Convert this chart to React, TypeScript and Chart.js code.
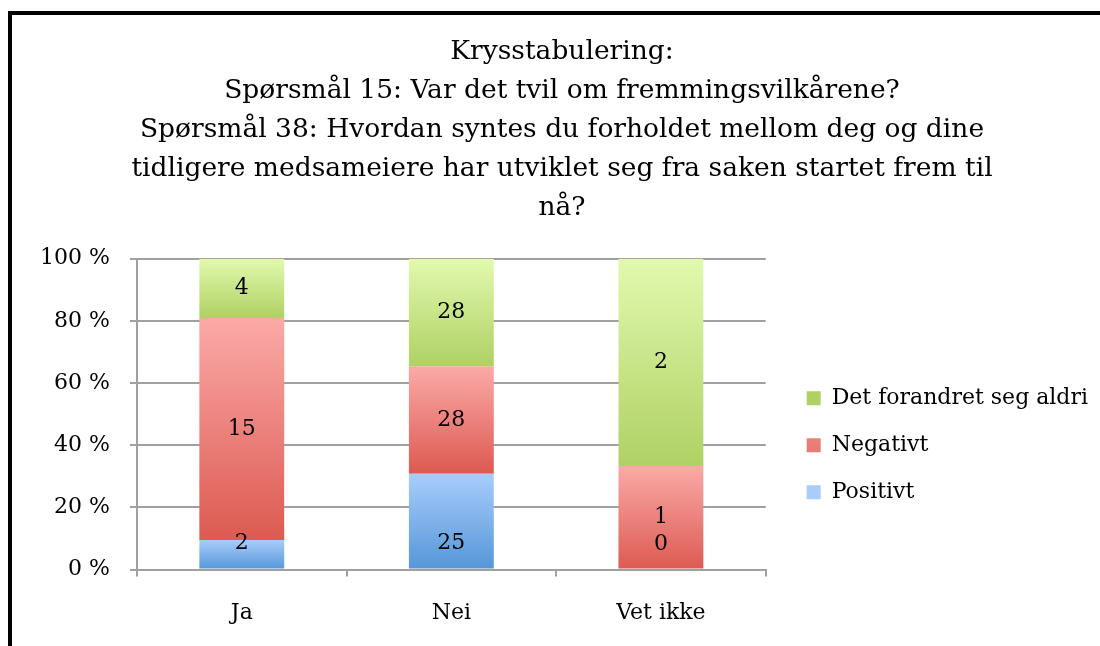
import React, { useEffect, useRef } from "react";
import { Chart, registerables } from "chart.js";

Chart.register(...registerables);

const categories = ["Ja", "Nei", "Vet ikke"];
const seriesNames = ["Positivt", "Negativt", "Det forandret seg aldri"];
const positivt = [2, 25, 0];
const negativt = [15, 28, 1];
const forandretAldri = [4, 28, 2];
const yTickLabels = ["0 %", "20 %", "40 %", "60 %", "80 %", "100 %"];
const titleLines = [
  "Krysstabulering:",
  "Spørsmål 15: Var det tvil om fremmingsvilkårene?",
  "Spørsmål 38: Hvordan syntes du forholdet mellom deg og dine",
  "tidligere medsameiere har utviklet seg fra saken startet frem til",
  "nå?",
];

const gradTop = ["#a8cdfb", "#fbaaa8", "#e2f9ae"];
const gradBottom = ["#5596d8", "#dc5a51", "#afd164"];
const midColor = ["#7fb0ea", "#ee8580", "#c8e588"];

const counts = [positivt, negativt, forandretAldri];
const totals = categories.map((_, i) => counts.reduce((s, arr) => s + arr[i], 0));
const percents = counts.map((arr) => arr.map((v, i) => (totals[i] ? (v / totals[i]) * 100 : 0)));

const FONT = "'DejaVu Serif', serif";

const dataLabelPlugin = {
  id: "dataLabels",
  afterDatasetsDraw(chart: any) {
    const ctx = chart.ctx;
    ctx.save();
    ctx.font = `22px ${FONT}`;
    ctx.fillStyle = "#000";
    ctx.textAlign = "center";
    ctx.textBaseline = "middle";
    chart.data.datasets.forEach((ds: any, di: number) => {
      const meta = chart.getDatasetMeta(di);
      meta.data.forEach((el: any, i: number) => {
        const v = counts[di][i];
        const y = di === 0 ? el.base - 25 : (el.y + el.base) / 2;
        ctx.fillText(String(v), el.x, y);
      });
    });
    ctx.restore();
  },
};

function makeBg(di: number) {
  return (c: any) => {
    if (c.type !== "data") return midColor[di];
    const chart = c.chart;
    const y = chart.scales.y;
    if (!y) return midColor[di];
    const i = c.dataIndex;
    let start = 0;
    for (let k = 0; k < di; k++) start += percents[k][i];
    const end = start + percents[di][i];
    const yTop = y.getPixelForValue(end);
    const yBot = y.getPixelForValue(start);
    if (!isFinite(yTop) || !isFinite(yBot) || Math.abs(yBot - yTop) < 1) return midColor[di];
    const g = chart.ctx.createLinearGradient(0, yTop, 0, yBot);
    g.addColorStop(0, gradTop[di]);
    g.addColorStop(1, gradBottom[di]);
    return g;
  };
}

export default function App() {
  const ref = useRef<HTMLCanvasElement | null>(null);
  useEffect(() => {
    if (!ref.current) return;
    const chart = new Chart(ref.current, {
      type: "bar",
      data: {
        labels: categories,
        datasets: seriesNames.map((name, di) => ({
          label: name,
          data: percents[di],
          backgroundColor: makeBg(di),
          borderWidth: 0,
          barPercentage: 0.405,
          categoryPercentage: 1,
          yAxisID: "y",
        })),
      },
      options: {
        animation: false,
        responsive: false,
        devicePixelRatio: 1,
        layout: { padding: { left: 14, right: 14, top: 0, bottom: 3 } },
        plugins: {
          title: {
            display: true,
            text: titleLines,
            color: "#000",
            font: { family: FONT, size: 26.5, weight: "normal", lineHeight: 1.47 },
            padding: { top: 18, bottom: 31 },
          },
          legend: {
            position: "right",
            reverse: true,
            align: "center",
            fullSize: false,
            maxWidth: 420,
            title: { display: true, text: "", padding: 25, font: { size: 10 } },
            labels: {
              color: "#000",
              font: { family: FONT, size: 22 },
              boxWidth: 14,
              boxHeight: 14,
              padding: 25,
            },
          },
          tooltip: { enabled: false },
        },
        scales: {
          x: {
            stacked: true,
            grid: {
              display: true,
              drawOnChartArea: false,
              color: "#a0a0a0",
              lineWidth: 2,
              tickLength: 7,
              offset: true,
            },
            border: { color: "#a0a0a0", width: 2 },
            ticks: { color: "#000", font: { family: FONT, size: 22 }, padding: 23 },
          },
          y: {
            stacked: true,
            min: 0,
            max: 100,
            grid: { color: "#a0a0a0", lineWidth: 2, tickLength: 7 },
            border: { color: "#a0a0a0", width: 2 },
            ticks: {
              stepSize: 20,
              color: "#000",
              font: { family: FONT, size: 22 },
              padding: 20,
              callback: (_v: any, i: number) => yTickLabels[i],
            },
            afterFit: (s: any) => {
              s.width = 111;
            },
          },
          spacer: {
            type: "linear",
            axis: "y",
            position: "right",
            display: true,
            grid: { display: false },
            ticks: { display: false },
            border: { display: false },
            afterFit: (s: any) => {
              s.width = 16;
            },
          },
        },
      } as any,
      plugins: [dataLabelPlugin],
    });
    return () => chart.destroy();
  }, []);

  return (
    <div
      style={{
        position: "fixed",
        left: 0,
        top: 0,
        width: 1100,
        height: 646,
        overflow: "hidden",
        background: "#fff",
      }}
    >
      <div
        style={{
          position: "absolute",
          left: 8,
          top: 11,
          width: 1200,
          height: 700,
          border: "4px solid #000",
        }}
      />
      <canvas
        ref={ref}
        width={1100}
        height={637}
        style={{ position: "absolute", left: 12, top: 15, width: 1100, height: 637 }}
      />
    </div>
  );
}
